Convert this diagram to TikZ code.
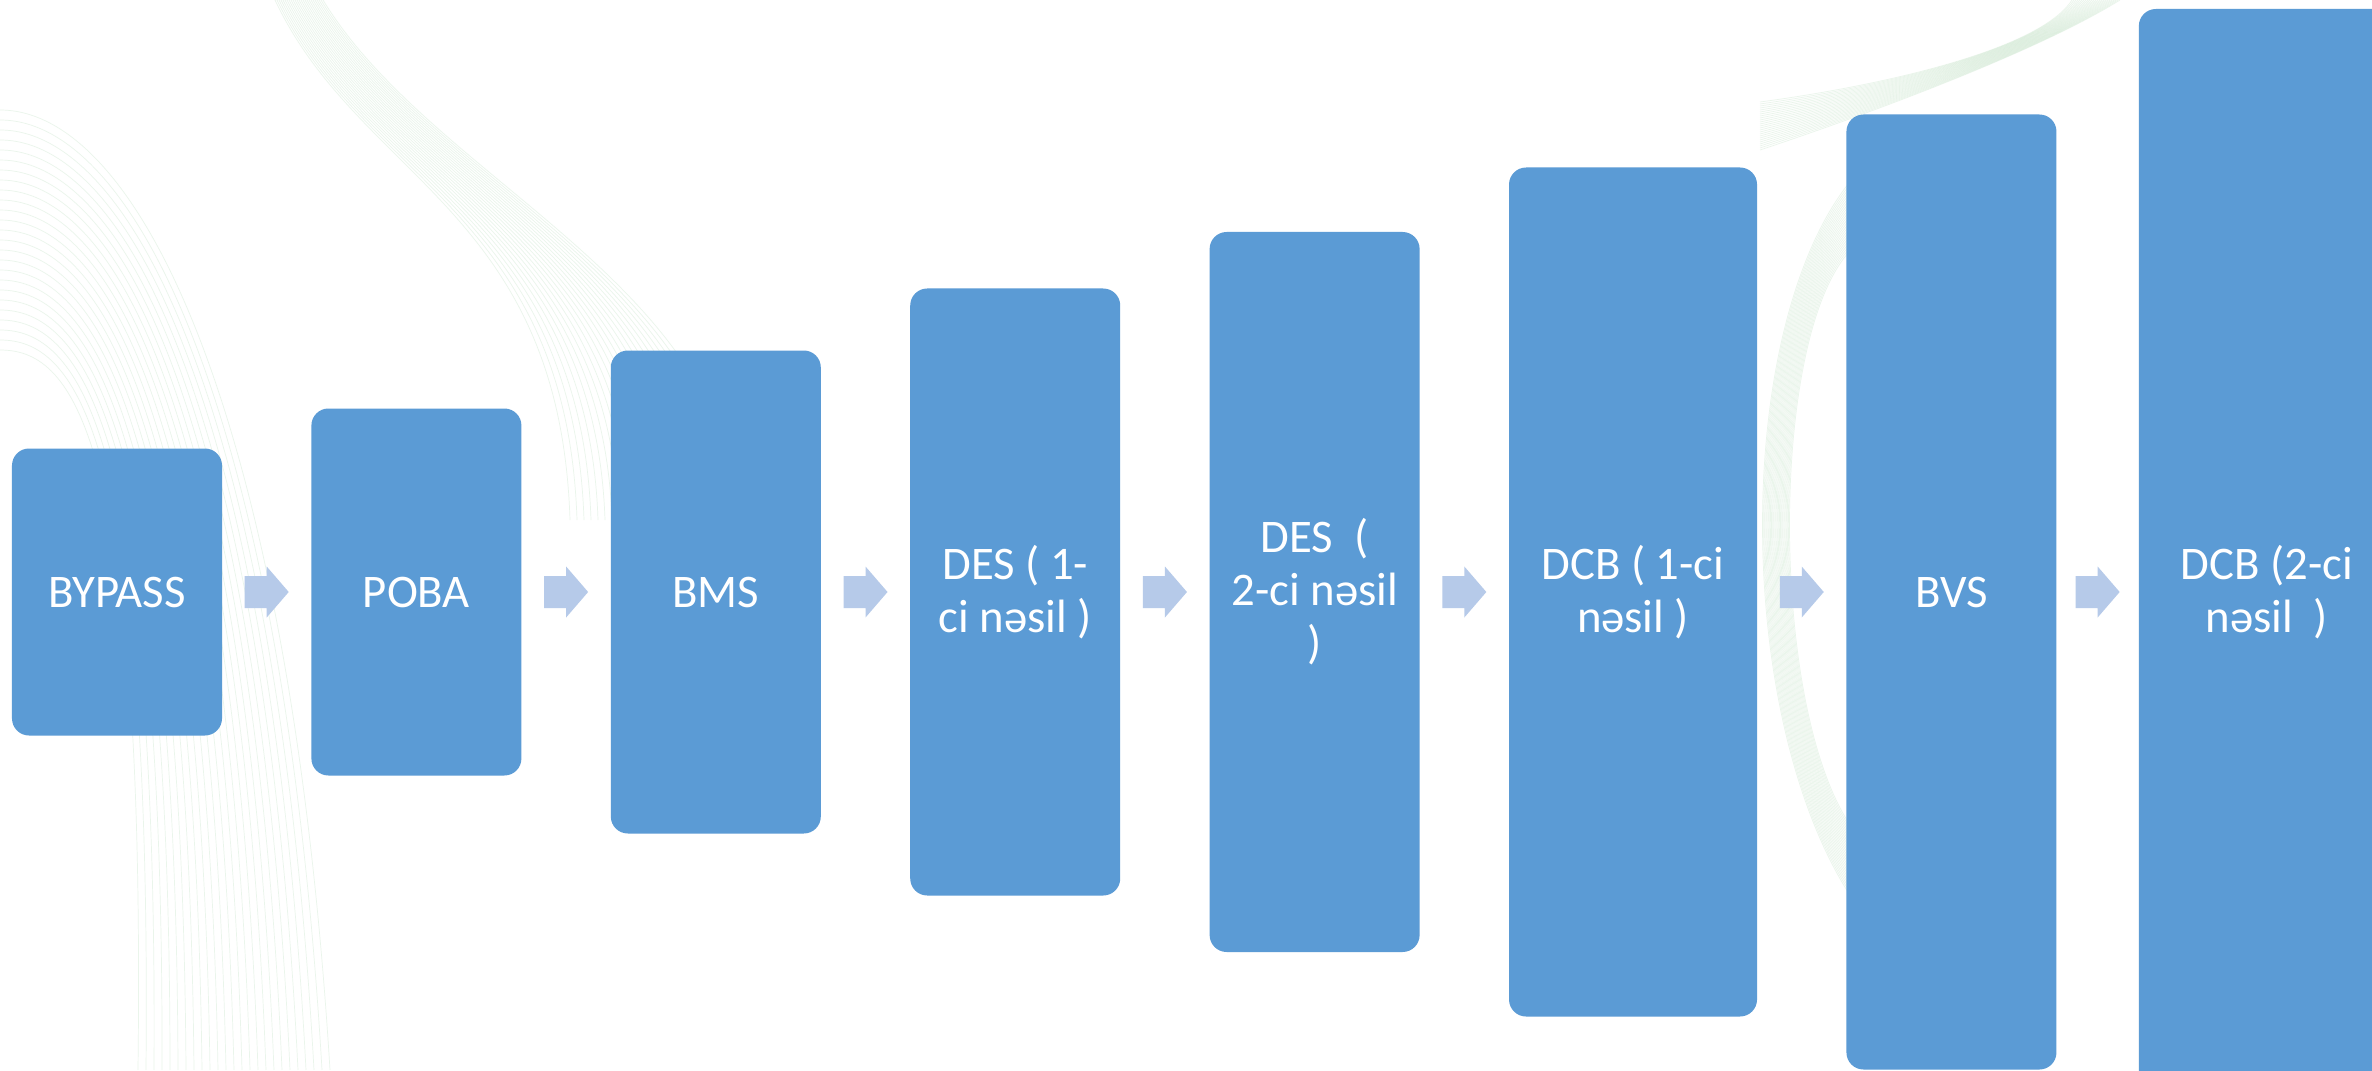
\documentclass[tikz,border=0pt]{standalone}
\usepackage{fontspec}
\setmainfont{Carlito}
\usetikzlibrary{positioning,calc}
\definecolor{boxblue}{RGB}{91,155,213}
\definecolor{arrowblue}{RGB}{182,202,233}
\definecolor{swirlgreen}{RGB}{160,210,165}
\tikzset{
  stage/.style={fill=boxblue, rounded corners=0.17cm, text=white, align=center,
    inner sep=0pt, minimum width=2.1cm, font=\fontsize{13.3}{15.1}\selectfont},
  swirl/.style={draw=swirlgreen, line width=0.2pt, opacity=0.22},
  flow/.style={fill=arrowblue}
}
\begin{document}
\begin{tikzpicture}
  \clip (0,0) rectangle (23.72,10.70);
  \fill[white] (0,0) rectangle (23.72,10.70);
  % faint background swirls
  \foreach \i in {0,...,24} {
    \draw[swirl] (0,9.6-0.1*\i) .. controls (1.4-0.03*\i,9.6-0.1*\i) and (2.9-0.06*\i,6.5) .. (3.3-0.08*\i,0);
    \draw[swirl] (2.75+0.02*\i,10.7) .. controls (3.6+0.03*\i,8.9) and (5.6+0.07*\i,8.6-0.03*\i) .. (5.7+0.07*\i,5.5);
    \draw[swirl] (17.6,9.2+0.02*\i) .. controls (18.8,9.6+0.01*\i) and (20.4,10.2) .. (21.2-0.02*\i,10.7);
    \draw[swirl] (18.6,9.0-0.03*\i) .. controls (17.3+0.015*\i,7.6) and (17.3+0.015*\i,3.4) .. (18.6,1.6+0.03*\i);
  }
  % stages
  \node[stage, minimum height=2.87cm] (bypass) at (1.17,4.78) {BYPASS};
  \node[stage, minimum height=3.67cm, right=0.88cm of bypass] (poba) {POBA};
  \node[stage, minimum height=4.83cm, right=0.88cm of poba] (bms) {BMS};
  \node[stage, minimum height=6.07cm, right=0.88cm of bms] (des1) {DES ( 1-\\ci nəsil )};
  \node[stage, minimum height=7.20cm, right=0.88cm of des1] (des2) {DES\ \ (\\2-ci nəsil\\)};
  \node[stage, minimum height=8.49cm, minimum width=2.48cm, right=0.88cm of des2] (dcb1) {DCB ( 1-ci\\nəsil )};
  \node[stage, minimum height=9.55cm, right=0.88cm of dcb1] (bvs) {BVS};
  \node[stage, minimum height=11.66cm, minimum width=2.56cm, right=0.81cm of bvs] (dcb2) {DCB (2-ci\\nəsil\ \ )};
  % block arrows between stages
  \foreach \a/\b in {bypass/poba, poba/bms, bms/des1, des1/des2, des2/dcb1, dcb1/bvs, bvs/dcb2}
    \fill[flow] ($(\a.east)!0.5!(\b.west)$) ++(-0.22,-0.16) -- ++(0.22,0) -- ++(0,-0.095)
      -- ++(0.22,0.255) -- ++(-0.22,0.255) -- ++(0,-0.095) -- ++(-0.22,0) -- cycle;
\end{tikzpicture}
\end{document}
